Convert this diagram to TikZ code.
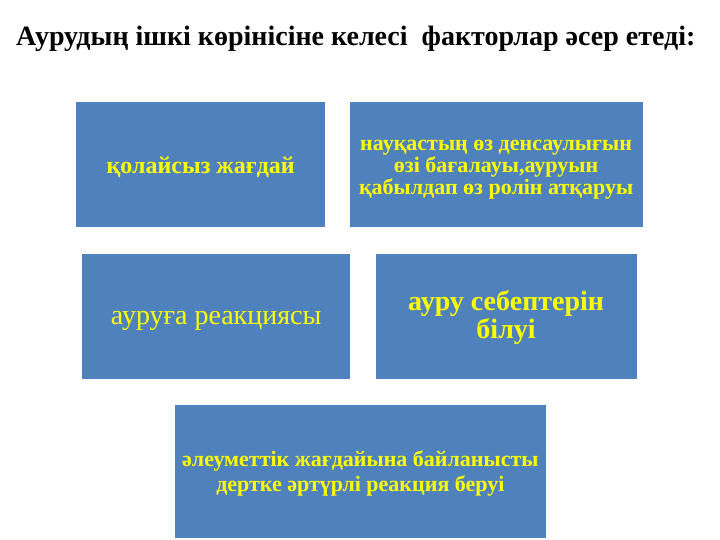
\documentclass[tikz,border=0pt]{standalone}
\usepackage{fontspec}
\setmainfont{Liberation Serif}
\usepackage{xcolor}
\usepackage{tikz}
\usetikzlibrary{positioning}

\definecolor{slideblue}{HTML}{4F81BD}
\definecolor{slideyellow}{HTML}{FFFF00}

\begin{document}
\begin{tikzpicture}[
			x = 1pt, y = -1pt,
			node distance = 26pt and 24pt,
			heading/.style = {font=\bfseries\fontsize{28}{32}\selectfont, inner sep=0pt},
			factor/.style = {rectangle, fill=slideblue, text=slideyellow, align=center,
					inner sep=0pt, minimum height=125pt, text depth=0pt,
					font=\bfseries\fontsize{22}{22}\selectfont},
		]
		\useasboundingbox (0,0) rectangle (720,540);

		% Title
		\node [heading, anchor=base west] (title) at (16,46)
			{Аурудың ішкі көрінісіне келесі~ факторлар әсер етеді:};

		% First row
		\node [factor, minimum width=249pt, anchor=north west, text height=17pt,
			font=\bfseries\fontsize{24}{28}\selectfont] (discomfort) at (76,102)
			{қолайсыз жағдай};
		\node [factor, minimum width=293pt, right=of discomfort, text height=59pt] (selfrating)
			{науқастың өз денсаулығын\\өзі бағалауы,ауруын\\қабылдап өз ролін атқаруы};

		% Second row
		\node [factor, minimum width=268pt, below=of discomfort.south west, anchor=north west,
			xshift=6pt, text height=17pt, font=\fontsize{28}{32}\selectfont] (reaction)
			{ауруға реакциясы};
		\node [factor, minimum width=261pt, right=25pt of reaction, text height=44pt,
			font=\bfseries\fontsize{28}{28}\selectfont] (causes)
			{ауру себептерін\\білуі};

		% Third row
		\node [factor, minimum width=371pt, minimum height=133pt,
			below=of reaction.south east, anchor=north, xshift=10pt, text height=39pt,
			font=\bfseries\fontsize{22}{25}\selectfont] (social)
			{әлеуметтік жағдайына байланысты\\дертке әртүрлі реакция беруі};

	\end{tikzpicture}
\end{document}
